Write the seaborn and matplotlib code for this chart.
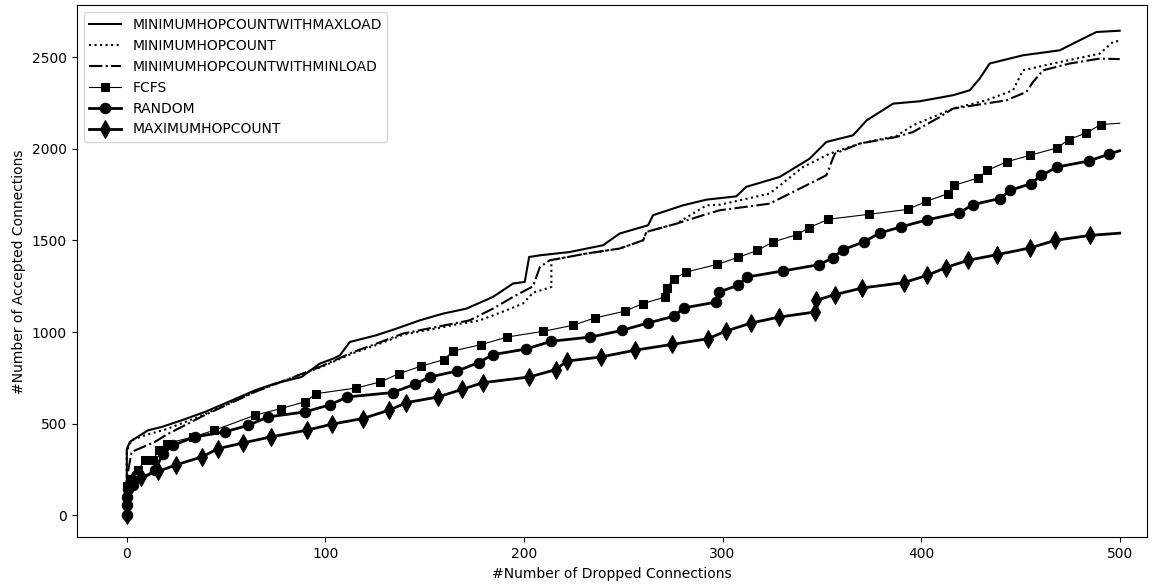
import pandas as pd
import numpy as np
import seaborn as sns
import matplotlib.pyplot as plt

# values (x = dropped, y = accepted)
maxload_x = [0, 0, 1.5, 4, 10.7, 17.5, 27.5, 39.3, 49.3, 64.5, 74.5, 88, 97.2, 103.9,
             107.3, 112.3, 125.7, 135.8, 147.5, 159.3, 171, 184.4, 194.5, 200.4, 202.6,
             208, 223, 239.8, 248.2, 262.5, 265, 280.1, 291.9, 306.9, 312, 328.8, 343.9,
             352.3, 365.7, 372.6, 385.9, 399.3, 416.1, 424.5, 429.5, 434.5, 451.3, 469.8,
             479.9, 488.3, 500]
maxload_y = [0, 360, 400, 418, 464, 482, 518, 564, 610, 682, 719, 755, 828, 855,
             873, 946, 983, 1019, 1064, 1101, 1128, 1192, 1265, 1274, 1410,
             1419, 1437, 1474, 1538, 1583, 1638, 1692, 1723, 1741, 1793, 1847, 1947,
             2038, 2074, 2156, 2247, 2260, 2293, 2320, 2384, 2466, 2511, 2538,
             2593, 2638, 2645]

minhop_x = [0, 0, 2.4, 10, 20, 39, 64.5, 98, 114, 125.7, 139.1, 155.9, 165, 177.7,
            191.2, 199.5, 204.6, 213.8, 213.8, 231.1, 248.2, 260, 261.7, 276.8, 291.9,
            298.6, 323.7, 340.5, 354, 369.1, 387.5, 395.9, 416.1, 432.8, 446.3, 451.3,
            466.4, 490, 496.6, 500]
minhop_y = [0, 350, 410, 440, 470, 550, 675, 810, 885, 930, 985, 1020, 1040, 1064,
            1119, 1156, 1215, 1246, 1392, 1428, 1456, 1501, 1547, 1592, 1692,
            1695, 1756, 1901, 1974, 2029, 2070, 2129, 2220, 2265, 2320, 2429,
            2466, 2520, 2584, 2590]

minload_x = [0, 0, 2.4, 14, 20, 39, 64.5, 97.2, 114, 125.7, 139.1, 155.9, 172.6, 184.4,
             194.5, 204.6, 208, 213, 231.1, 248.2, 260, 261.7, 276.8, 290.2, 298.6,
             323.7, 340.5, 352.3, 356.5, 369.1, 387.5, 395.9, 409.4, 416.1, 442.9, 453,
             456.4, 461.4, 474.8, 490, 500]
minload_y = [0, 200, 346, 400, 440, 546, 673, 810, 891, 937, 992, 1028, 1064, 1128,
             1192, 1250, 1355, 1392, 1428, 1456, 1501, 1547, 1592, 1638, 1665,
             1701, 1792, 1856, 1974, 2029, 2065, 2092, 2174, 2220, 2265, 2311,
             2366, 2429, 2466, 2493, 2490]

fcfs_x = [0, 0, 1.5, 5.7, 9, 13.2, 16, 20, 33.4, 44, 64.5, 77.4, 89.6, 95.5, 115.6,
          127.7, 137, 147.9, 159.8, 164.3, 178.6, 191.5, 209.6, 224.7, 235.6, 250.8,
          259.7, 271.2, 271.8, 275.4, 281.8, 297.4, 307.8, 317.6, 325.4, 337.5, 343.6,
          353.3, 373.8, 393.4, 402.7, 413.6, 416.6, 428.7, 433.4, 443, 454.7, 468.4,
          474.3, 483.2, 490.4, 500]
fcfs_y = [0, 160, 200, 246, 300, 300, 355, 391, 428, 464, 546, 582, 619, 664, 695,
          728, 773, 813, 850, 897, 932, 973, 1004, 1037, 1077, 1114,
          1155, 1192, 1241, 1290, 1328, 1370, 1408, 1446, 1492, 1532, 1570,
          1616, 1643, 1670, 1714, 1756, 1801, 1841, 1883, 1929, 1965, 2005,
          2051, 2087, 2133, 2140]

random_x = [0, 0, 0, 0.7, 3.2, 14.1, 18.3, 23.3, 34.2, 49.3, 61.1, 71.1, 89.6, 102.2,
            111.1, 133.8, 145, 152.6, 166.5, 177.2, 184.4, 200.8, 213.8, 233.5, 249.6,
            262.5, 275.4, 280.5, 296.9, 298.2, 307.8, 312.5, 330.5, 348.6, 355.6, 360.7,
            371.1, 379.2, 389.8, 403.1, 419.1, 426.1, 439.6, 444.9, 455.5, 460.6, 468.6,
            484.4, 494.5, 500]
random_y = [0, 55, 100, 146, 164, 246, 337, 382, 428, 455, 491, 537, 564, 603,
            646, 670, 715, 755, 788, 834, 877, 907, 950, 973, 1010,
            1050, 1086, 1132, 1164, 1219, 1255, 1301, 1334, 1368, 1406, 1450,
            1492, 1541, 1574, 1613, 1650, 1696, 1729, 1774, 1811, 1856, 1901,
            1934, 1971, 1990]

maxhop_x = [0, 0, 3.2, 7.4, 15.8, 25, 37.9, 46, 58.6, 72.5, 90.5, 103.5, 118.7, 131.9,
            140.8, 156.8, 169, 179.4, 202.7, 216, 221.7, 238.7, 255.8, 274.6, 292.7,
            301.6, 314.5, 328.5, 346.8, 347.3, 356.5, 370.4, 391.2, 403.2, 412.4, 423.6,
            438.4, 454.7, 467.6, 485.2, 500]
maxhop_y = [0, 100, 191, 209, 240, 276, 319, 364, 395, 428, 464, 498, 528, 573,
            615, 646, 688, 724, 755, 795, 842, 864, 901, 933, 964,
            1005, 1050, 1082, 1110, 1174, 1204, 1241, 1270, 1310, 1352, 1392,
            1423, 1459, 1501, 1528, 1540]

fig, ax = plt.subplots(figsize=(11.63, 5.84), dpi=100)

plain = dict(sort=False, estimator=None, ax=ax, color="black")
mk = dict(markeredgecolor="black", markerfacecolor="black")

sns.lineplot(x=maxload_x, y=maxload_y, linewidth=1.5, linestyle="-",
             label="MINIMUMHOPCOUNTWITHMAXLOAD", **plain)
sns.lineplot(x=minhop_x, y=minhop_y, linewidth=1.5, linestyle=":",
             label="MINIMUMHOPCOUNT", **plain)
sns.lineplot(x=minload_x, y=minload_y, linewidth=1.5, linestyle="-.",
             label="MINIMUMHOPCOUNTWITHMINLOAD", **plain)
sns.lineplot(x=fcfs_x, y=fcfs_y, linewidth=0.8, marker="s", markersize=5.5,
             markevery=slice(1, -1), label="FCFS", **plain, **mk)
sns.lineplot(x=random_x, y=random_y, linewidth=2, marker="o", markersize=7.5,
             markevery=slice(0, -1), label="RANDOM", **plain, **mk)
sns.lineplot(x=maxhop_x, y=maxhop_y, linewidth=2, marker="d", markersize=9,
             markevery=slice(0, -1), label="MAXIMUMHOPCOUNT", **plain, **mk)

ax.set_xlim(-25.2, 513.6)
ax.set_ylim(-120, 2784)
ax.set_xlabel("#Number of Dropped Connections")
ax.set_ylabel("#Number of Accepted Connections")
ax.legend(loc="upper left", fontsize=10, handlelength=2.3)

fig.subplots_adjust(left=0.066, right=0.986, top=0.991, bottom=0.08)
fig.savefig("out.png", dpi=100)
